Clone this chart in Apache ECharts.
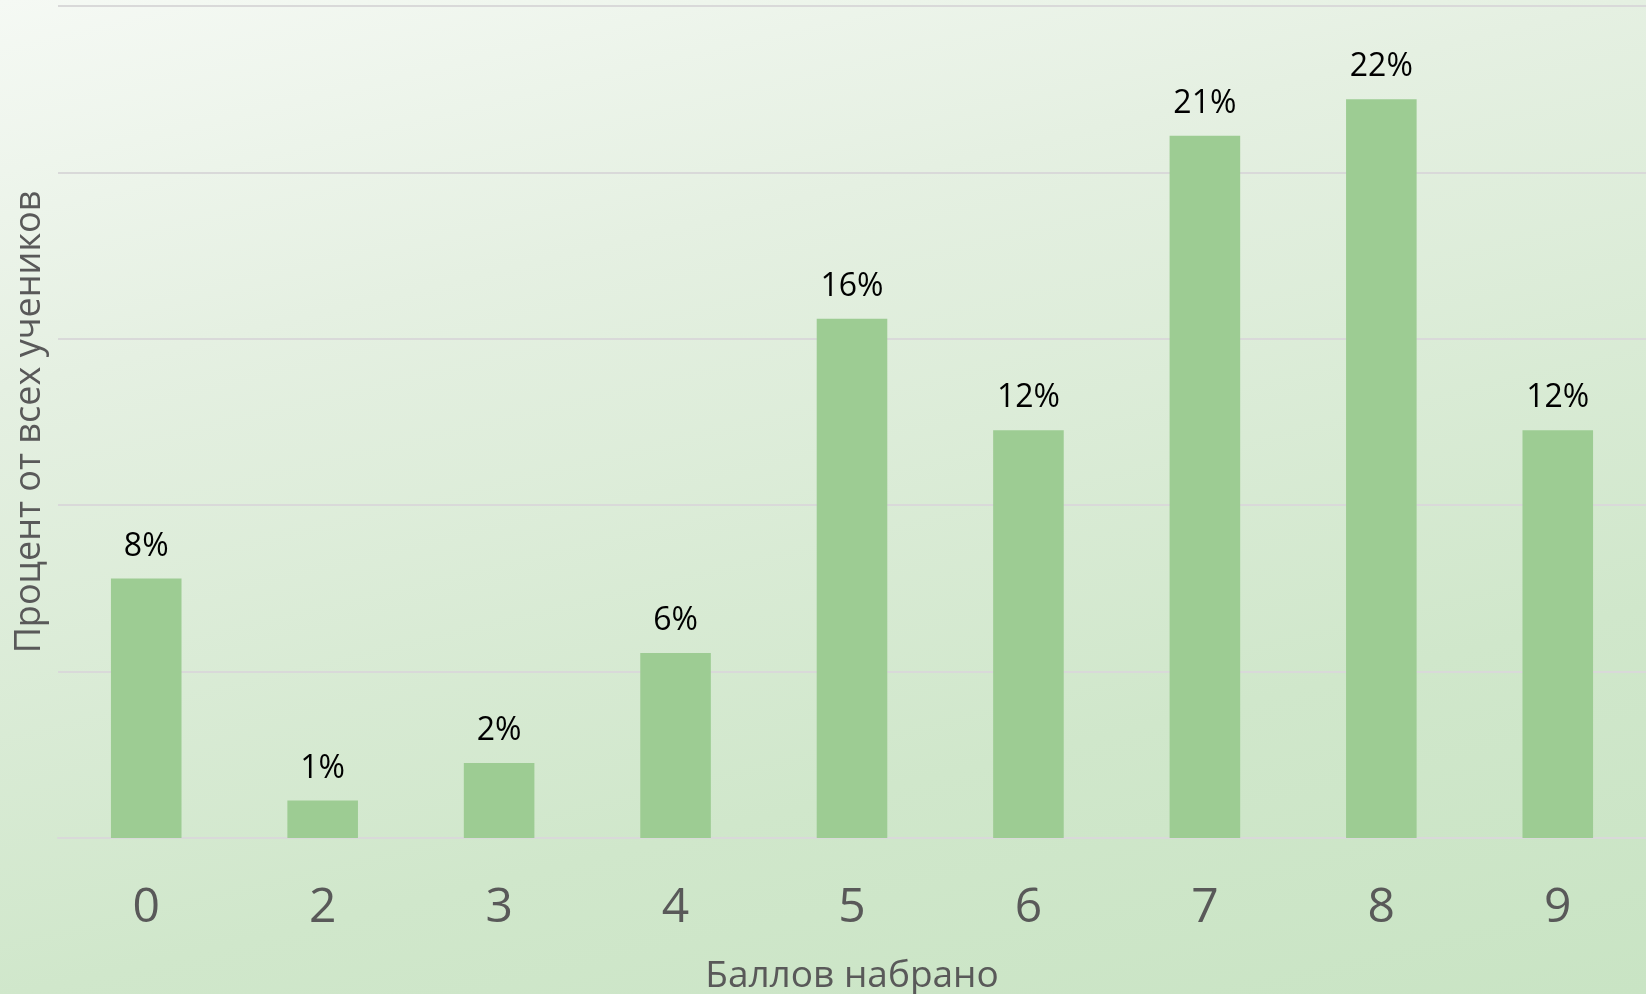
<!DOCTYPE html>
<html>
<head>
<meta charset="utf-8">
<style>
html,body{margin:0;padding:0;width:1646px;height:994px;overflow:hidden;}
#chart{width:1646px;height:994px;}
</style>
<script src="https://cdn.jsdelivr.net/npm/echarts@6/dist/echarts.min.js"></script>
</head>
<body>
<div id="chart"></div>
<script>
var categories = ['0', '2', '3', '4', '5', '6', '7', '8', '9'];
var percentValues = [7.8, 1.13, 2.25, 5.56, 15.6, 12.25, 21.1, 22.2, 12.25];
var xTitle = 'Баллов набрано';
var yTitle = 'Процент от всех учеников';

var chart = echarts.init(document.getElementById('chart'));
chart.setOption({
  backgroundColor: {
    type: 'linear', x: 0, y: 0, x2: 0.19, y2: 1.32,
    colorStops: [
      {offset: 0, color: '#f5f9f4'},
      {offset: 0.28, color: '#e5f0e2'},
      {offset: 0.72, color: '#d0e7cb'},
      {offset: 1, color: '#c9e4c4'}
    ]
  },
  textStyle: {fontFamily: 'Open Sans'},
  grid: {left: 58, right: 0, top: 6, bottom: 156, containLabel: false, outerBoundsMode: 'none'},
  xAxis: {
    type: 'category',
    data: categories,
    axisLine: {show: true, lineStyle: {color: '#d9d9d9', width: 2}},
    axisTick: {show: false},
    axisLabel: {color: '#595959', fontSize: 48, margin: 46, fontFamily: 'Open Sans'},
    name: xTitle,
    nameLocation: 'middle',
    nameGap: 120,
    nameTextStyle: {color: '#595959', fontSize: 37, fontFamily: 'Open Sans'}
  },
  yAxis: {
    type: 'value',
    min: 0,
    max: 25,
    interval: 5,
    axisLine: {show: false},
    axisTick: {show: false},
    axisLabel: {show: false},
    splitLine: {show: true, lineStyle: {color: '#d9d9d9', width: 2}},
    name: yTitle,
    nameLocation: 'middle',
    nameGap: 10,
    nameRotate: 90,
    nameTextStyle: {color: '#595959', fontSize: 36, fontFamily: 'Open Sans'}
  },
  series: [{
    type: 'bar',
    data: percentValues,
    barWidth: '40%',
    itemStyle: {color: '#9dcc93'},
    label: {
      show: true,
      position: 'top',
      distance: 16,
      color: '#000000',
      fontSize: 32,
      fontFamily: 'Open Sans',
      formatter: function (p) { return Math.round(p.value) + '%'; }
    },
    silent: true,
    animation: false
  }],
  animation: false
});
</script>
</body>
</html>
